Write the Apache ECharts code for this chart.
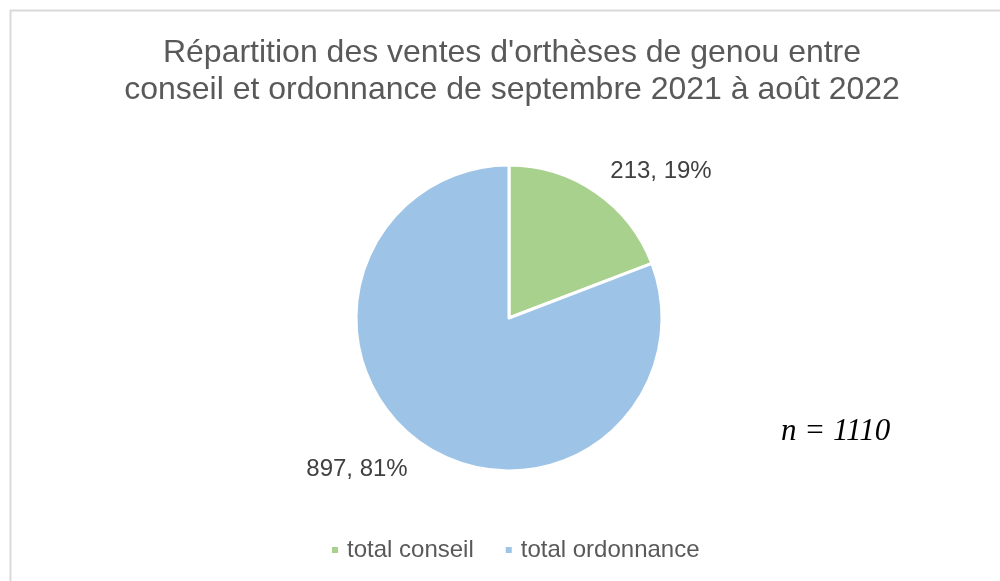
<!DOCTYPE html>
<html>
<head>
<meta charset="utf-8">
<script src="https://cdn.jsdelivr.net/npm/echarts@6/dist/echarts.min.js"></script>
<style>
  html, body { margin: 0; padding: 0; background: #fff; }
  #chart { width: 1000px; height: 581px; }
</style>
</head>
<body>
<div id="chart"></div>
<script>
// data
const categories = ['total conseil', 'total ordonnance']
const values = [213, 897]
const colors = ['#A9D18E', '#9DC3E6']
const titleText = 'Répartition des ventes d\'orthèses de genou entre\nconseil et ordonnance de septembre 2021 à août 2022'
const noteText = 'n = 1110'

const total = values.reduce((a, b) => a + b, 0)

const chart = echarts.init(document.getElementById('chart'))
chart.setOption({
    animation: false,
    color: colors,
    title: {
        text: titleText,
        left: 507,
        textAlign: 'center',
        top: 30,
        textStyle: {
            fontFamily: 'Liberation Sans, Arial',
            fontSize: 32,
            fontWeight: 'normal',
            color: '#595959',
            lineHeight: 37,
        },
    },
    legend: {
        bottom: 14,
        left: 325,
        icon: 'rect',
        itemWidth: 8,
        itemHeight: 8,
        itemGap: 30,
        textStyle: {
            fontFamily: 'Liberation Sans, Arial',
            fontSize: 24,
            color: '#595959',
            padding: [0, 0, 0, 3],
        },
        data: categories,
    },
    graphic: [{
        type: 'rect',
        silent: true,
        shape: { x: 10.5, y: 10.5, width: 1100, height: 700 },
        style: { fill: 'none', stroke: '#d9d9d9', lineWidth: 2 },
    }, {
        type: 'text',
        left: 781,
        top: 416,
        style: {
            text: noteText,
            font: 'italic 31px "Liberation Serif", "Times New Roman", serif',
            fill: '#000',
        },
    }],
    series: [{
        type: 'pie',
        center: [509, 318],
        radius: [0, 153],
        startAngle: 90,
        clockwise: true,
        itemStyle: {
            borderColor: '#fff',
            borderWidth: 3,
        },
        label: {
            show: true,
            position: 'outside',
            fontFamily: 'Liberation Sans, Arial',
            fontSize: 24,
            color: '#404040',
            formatter: p => p.value + ', ' + Math.round(p.value / total * 100) + '%',
        },
        labelLine: { show: false },
        labelLayout: p => (p.dataIndex === 0
            ? { x: 661, y: 171, align: 'center', verticalAlign: 'middle' }
            : { x: 357, y: 469, align: 'center', verticalAlign: 'middle' }),
        data: categories.map((c, i) => ({ name: c, value: values[i] })),
    }],
})
</script>
</body>
</html>
